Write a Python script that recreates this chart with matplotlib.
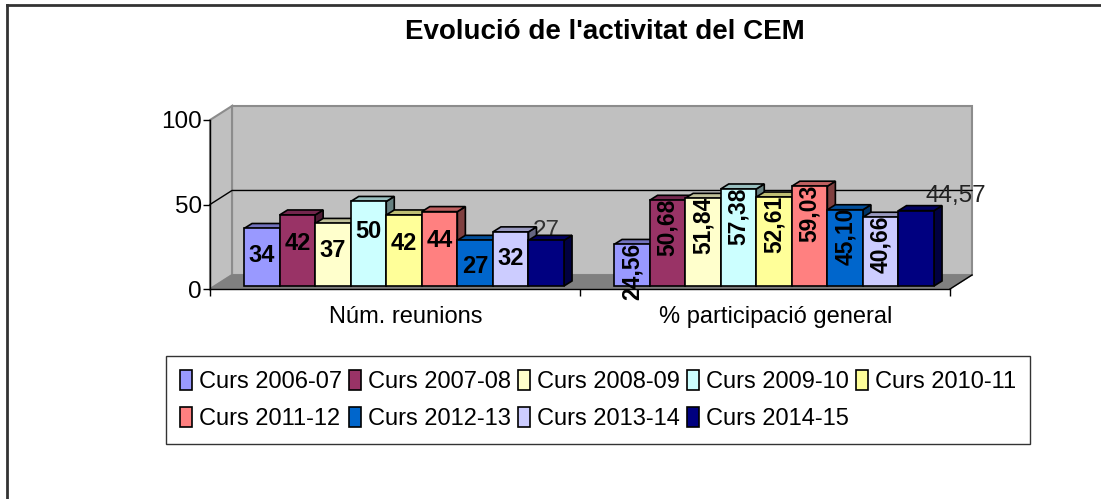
import numpy as np
import matplotlib
matplotlib.use('Agg')
import matplotlib.pyplot as plt
from matplotlib.patches import Polygon, Patch, Rectangle
from matplotlib.lines import Line2D
from matplotlib.colors import to_rgb

plt.rcParams['font.family'] = ['Liberation Sans', 'DejaVu Sans']

# Data
title = "Evolució de l'activitat del CEM"
categories = ['Núm. reunions', '% participació general']
series = ['Curs 2006-07', 'Curs 2007-08', 'Curs 2008-09', 'Curs 2009-10', 'Curs 2010-11',
          'Curs 2011-12', 'Curs 2012-13', 'Curs 2013-14', 'Curs 2014-15']
reunions = [34, 42, 37, 50, 42, 44, 27, 32, 27]
participacio = [24.56, 50.68, 51.84, 57.38, 52.61, 59.03, 45.10, 40.66, 44.57]
colors = ['#9999FF', '#993366', '#FFFFCC', '#CCFFFF', '#FFFF99',
          '#FF8080', '#0066CC', '#CCCCFF', '#000080']
yticks = [0, 50, 100]

values = [reunions, participacio]

# 3D look (in data units of the front plane)
WALL_DX, WALL_DY = 0.0595, 8.3
BAR_DX, BAR_DY = 0.0216, 2.96
BAR_W, BAR_X0, BAR_Y0 = 0.0961, 0.092, 1.8
FS = 17.5


def shade(c, f):
    return tuple(np.array(to_rgb(c)) * f)


def fmt(v):
    return ('%.2f' % v).replace('.', ',')


fig = plt.figure(figsize=(11.01, 4.99), dpi=100)
ax = fig.add_axes([210 / 1101, 1 - 289 / 499, 740 / 1101, 169 / 499])
ax.set_xlim(0, len(categories))
ax.set_ylim(0, 100)
ax.patch.set_visible(False)

# walls and floor
n = len(categories)
floor = Polygon([(0, 0), (n, 0), (n + WALL_DX, WALL_DY), (WALL_DX, WALL_DY)],
                facecolor='#808080', edgecolor='#808080', lw=1, zorder=0.5, clip_on=False)
back = Polygon([(WALL_DX, WALL_DY), (n + WALL_DX, WALL_DY), (n + WALL_DX, 100 + WALL_DY),
                (WALL_DX, 100 + WALL_DY)],
               facecolor='#C0C0C0', edgecolor='#8C8C8C', lw=1.5, zorder=0.4, clip_on=False)
left = Polygon([(0, 0), (WALL_DX, WALL_DY), (WALL_DX, 100 + WALL_DY), (0, 100)],
               facecolor='#C0C0C0', edgecolor='#8C8C8C', lw=1.5, zorder=0.4, clip_on=False)
for p in (back, left, floor):
    ax.add_patch(p)

# gridline at 50
for yv in yticks[1:-1]:
    ax.add_line(Line2D([0, WALL_DX, n + WALL_DX], [yv, yv + WALL_DY, yv + WALL_DY],
                       color='black', lw=1, zorder=0.6, clip_on=False))
ax.add_line(Line2D([n, n + WALL_DX], [0, WALL_DY], color='black', lw=1, zorder=2.5, clip_on=False))

# bars
for c in range(n):
    for i, v in enumerate(values[c]):
        x0 = c + BAR_X0 + i * BAR_W
        y0 = BAR_Y0
        z = 3 + c + i * 0.01
        side = Polygon([(x0 + BAR_W, y0), (x0 + BAR_W + BAR_DX, y0 + BAR_DY),
                        (x0 + BAR_W + BAR_DX, y0 + v + BAR_DY), (x0 + BAR_W, y0 + v)],
                       facecolor=shade(colors[i], 0.5), edgecolor='black', lw=1.2, zorder=z,
                       clip_on=False)
        top = Polygon([(x0, y0 + v), (x0 + BAR_W, y0 + v), (x0 + BAR_W + BAR_DX, y0 + v + BAR_DY),
                       (x0 + BAR_DX, y0 + v + BAR_DY)],
                      facecolor=shade(colors[i], 0.75), edgecolor='black', lw=1.2, zorder=z,
                      clip_on=False)
        front = Rectangle((x0, y0), BAR_W, v, facecolor=colors[i], edgecolor='black', lw=1.2,
                          zorder=z, clip_on=False)
        ax.add_patch(side)
        ax.add_patch(top)
        ax.add_patch(front)

        last = i == len(values[c]) - 1
        if c == 0:
            if last:
                ax.text(x0 + BAR_W / 2, y0 + v + 5.5, '%d' % v, ha='center', va='center',
                        fontsize=FS, color='#333333', zorder=2.9)
            else:
                ax.text(x0 + BAR_W / 2, y0 + 0.9 * v - 12.5, '%d' % v, ha='center', va='center',
                        fontsize=17, fontweight='bold', color='black', zorder=10)
        else:
            if last:
                ax.text(x0 + BAR_W + 0.06, y0 + v + 8.5, fmt(v), ha='center', va='center',
                        fontsize=FS, color='#222222', zorder=10)
            else:
                ax.text(x0 + BAR_W / 2, y0 + v + 1, fmt(v), ha='center', va='top', rotation=90,
                        fontsize=16.5, fontweight='bold', color='black', zorder=10)

# axes
for s in ('top', 'right'):
    ax.spines[s].set_visible(False)
for s in ('left', 'bottom'):
    ax.spines[s].set_color('black')
    ax.spines[s].set_linewidth(1)
ax.set_yticks(yticks)
ax.set_yticklabels([str(t) for t in yticks])
ax.set_xticks(range(n + 1))
ax.set_xticklabels([''] * (n + 1))
ax.set_xticks([c + 0.53 for c in range(n)], minor=True)
ax.set_xticklabels(categories, minor=True)
ax.tick_params(axis='y', direction='out', length=5, width=1, pad=1, labelsize=FS)
ax.tick_params(axis='x', which='major', direction='out', length=5, width=1)
ax.tick_params(axis='x', which='minor', length=0, pad=12, labelsize=17)

fig.text(605 / 1101, 1 - 32 / 499, title, ha='center', va='center', fontsize=20,
         fontweight='bold')

# legend, row-major order with 5 columns
handles = [Patch(facecolor=colors[i], edgecolor='black', lw=1.2) for i in range(len(series))]
order = [0, 5, 1, 6, 2, 7, 3, 8, 4]
leg = fig.legend([handles[k] for k in order], [series[k] for k in order], ncol=5,
                 loc='center', bbox_to_anchor=(598 / 1101, 1 - 400 / 499),
                 frameon=True, fancybox=False, fontsize=17, handlelength=0.5,
                 handleheight=0.9, handletextpad=0.3, columnspacing=0.3,
                 borderpad=0.6, labelspacing=0.6, borderaxespad=0)
leg.get_frame().set_edgecolor('black')
leg.get_frame().set_linewidth(1)

# outer chart frame
fig.add_artist(Line2D([7 / 1101, 7 / 1101], [0, 1 - 5 / 499], transform=fig.transFigure,
                      color='#333333', lw=2))
fig.add_artist(Line2D([7 / 1101, 1], [1 - 5 / 499, 1 - 5 / 499], transform=fig.transFigure,
                      color='#333333', lw=2))

fig.savefig('out.png', dpi=100)
